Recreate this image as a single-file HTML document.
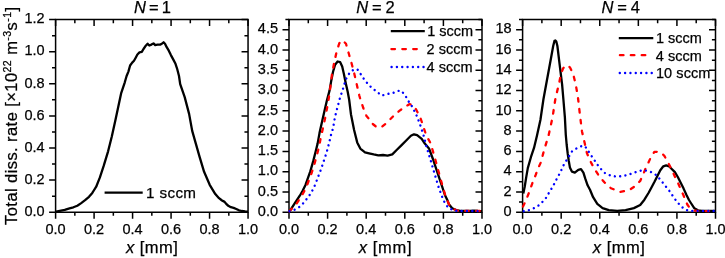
<!DOCTYPE html>
<html><head><meta charset="utf-8"><style>
html,body{margin:0;padding:0;background:#fff;}
svg{display:block;will-change:transform;}
text{font-family:"Liberation Sans", sans-serif;fill:#000;stroke:#000;stroke-width:0.25px;}
</style></head><body>
<svg width="725" height="258" viewBox="0 0 725 258">
<path d="M55.6 19.6H248.05V212.2H55.6Z M289.0 19.6H482.0V212.2H289.0Z M522.6 19.6H715.5V212.2H522.6Z" stroke="#000" stroke-width="1.5" fill="none" stroke-linejoin="miter"/>
<path d="M55.60 212.20L55.60 218.70 M55.60 19.60L55.60 26.10 M74.84 212.20L74.84 215.80 M74.84 19.60L74.84 23.20 M94.09 212.20L94.09 218.70 M94.09 19.60L94.09 26.10 M113.34 212.20L113.34 215.80 M113.34 19.60L113.34 23.20 M132.58 212.20L132.58 218.70 M132.58 19.60L132.58 26.10 M151.83 212.20L151.83 215.80 M151.83 19.60L151.83 23.20 M171.07 212.20L171.07 218.70 M171.07 19.60L171.07 26.10 M190.31 212.20L190.31 215.80 M190.31 19.60L190.31 23.20 M209.56 212.20L209.56 218.70 M209.56 19.60L209.56 26.10 M228.81 212.20L228.81 215.80 M228.81 19.60L228.81 23.20 M248.05 212.20L248.05 218.70 M248.05 19.60L248.05 26.10 M49.10 212.20L55.60 212.20 M248.05 212.20L241.55 212.20 M49.10 180.10L55.60 180.10 M248.05 180.10L241.55 180.10 M49.10 148.00L55.60 148.00 M248.05 148.00L241.55 148.00 M49.10 115.90L55.60 115.90 M248.05 115.90L241.55 115.90 M49.10 83.80L55.60 83.80 M248.05 83.80L241.55 83.80 M49.10 51.70L55.60 51.70 M248.05 51.70L241.55 51.70 M49.10 19.60L55.60 19.60 M248.05 19.60L241.55 19.60 M52.00 196.15L55.60 196.15 M248.05 196.15L244.45 196.15 M52.00 164.05L55.60 164.05 M248.05 164.05L244.45 164.05 M52.00 131.95L55.60 131.95 M248.05 131.95L244.45 131.95 M52.00 99.85L55.60 99.85 M248.05 99.85L244.45 99.85 M52.00 67.75L55.60 67.75 M248.05 67.75L244.45 67.75 M52.00 35.65L55.60 35.65 M248.05 35.65L244.45 35.65 M289.00 212.20L289.00 218.70 M289.00 19.60L289.00 26.10 M308.30 212.20L308.30 215.80 M308.30 19.60L308.30 23.20 M327.60 212.20L327.60 218.70 M327.60 19.60L327.60 26.10 M346.90 212.20L346.90 215.80 M346.90 19.60L346.90 23.20 M366.20 212.20L366.20 218.70 M366.20 19.60L366.20 26.10 M385.50 212.20L385.50 215.80 M385.50 19.60L385.50 23.20 M404.80 212.20L404.80 218.70 M404.80 19.60L404.80 26.10 M424.10 212.20L424.10 215.80 M424.10 19.60L424.10 23.20 M443.40 212.20L443.40 218.70 M443.40 19.60L443.40 26.10 M462.70 212.20L462.70 215.80 M462.70 19.60L462.70 23.20 M482.00 212.20L482.00 218.70 M482.00 19.60L482.00 26.10 M282.50 212.20L289.00 212.20 M482.00 212.20L475.50 212.20 M282.50 191.93L289.00 191.93 M482.00 191.93L475.50 191.93 M282.50 171.65L289.00 171.65 M482.00 171.65L475.50 171.65 M282.50 151.38L289.00 151.38 M482.00 151.38L475.50 151.38 M282.50 131.11L289.00 131.11 M482.00 131.11L475.50 131.11 M282.50 110.83L289.00 110.83 M482.00 110.83L475.50 110.83 M282.50 90.56L289.00 90.56 M482.00 90.56L475.50 90.56 M282.50 70.28L289.00 70.28 M482.00 70.28L475.50 70.28 M282.50 50.01L289.00 50.01 M482.00 50.01L475.50 50.01 M282.50 29.74L289.00 29.74 M482.00 29.74L475.50 29.74 M285.40 202.06L289.00 202.06 M482.00 202.06L478.40 202.06 M285.40 181.79L289.00 181.79 M482.00 181.79L478.40 181.79 M285.40 161.52L289.00 161.52 M482.00 161.52L478.40 161.52 M285.40 141.24L289.00 141.24 M482.00 141.24L478.40 141.24 M285.40 120.97L289.00 120.97 M482.00 120.97L478.40 120.97 M285.40 100.69L289.00 100.69 M482.00 100.69L478.40 100.69 M285.40 80.42L289.00 80.42 M482.00 80.42L478.40 80.42 M285.40 60.15L289.00 60.15 M482.00 60.15L478.40 60.15 M285.40 39.87L289.00 39.87 M482.00 39.87L478.40 39.87 M285.40 19.60L289.00 19.60 M482.00 19.60L478.40 19.60 M522.60 212.20L522.60 218.70 M522.60 19.60L522.60 26.10 M541.89 212.20L541.89 215.80 M541.89 19.60L541.89 23.20 M561.18 212.20L561.18 218.70 M561.18 19.60L561.18 26.10 M580.47 212.20L580.47 215.80 M580.47 19.60L580.47 23.20 M599.76 212.20L599.76 218.70 M599.76 19.60L599.76 26.10 M619.05 212.20L619.05 215.80 M619.05 19.60L619.05 23.20 M638.34 212.20L638.34 218.70 M638.34 19.60L638.34 26.10 M657.63 212.20L657.63 215.80 M657.63 19.60L657.63 23.20 M676.92 212.20L676.92 218.70 M676.92 19.60L676.92 26.10 M696.21 212.20L696.21 215.80 M696.21 19.60L696.21 23.20 M715.50 212.20L715.50 218.70 M715.50 19.60L715.50 26.10 M516.10 212.20L522.60 212.20 M715.50 212.20L709.00 212.20 M516.10 191.93L522.60 191.93 M715.50 191.93L709.00 191.93 M516.10 171.65L522.60 171.65 M715.50 171.65L709.00 171.65 M516.10 151.38L522.60 151.38 M715.50 151.38L709.00 151.38 M516.10 131.11L522.60 131.11 M715.50 131.11L709.00 131.11 M516.10 110.83L522.60 110.83 M715.50 110.83L709.00 110.83 M516.10 90.56L522.60 90.56 M715.50 90.56L709.00 90.56 M516.10 70.28L522.60 70.28 M715.50 70.28L709.00 70.28 M516.10 50.01L522.60 50.01 M715.50 50.01L709.00 50.01 M516.10 29.74L522.60 29.74 M715.50 29.74L709.00 29.74 M519.00 202.06L522.60 202.06 M715.50 202.06L711.90 202.06 M519.00 181.79L522.60 181.79 M715.50 181.79L711.90 181.79 M519.00 161.52L522.60 161.52 M715.50 161.52L711.90 161.52 M519.00 141.24L522.60 141.24 M715.50 141.24L711.90 141.24 M519.00 120.97L522.60 120.97 M715.50 120.97L711.90 120.97 M519.00 100.69L522.60 100.69 M715.50 100.69L711.90 100.69 M519.00 80.42L522.60 80.42 M715.50 80.42L711.90 80.42 M519.00 60.15L522.60 60.15 M715.50 60.15L711.90 60.15 M519.00 39.87L522.60 39.87 M715.50 39.87L711.90 39.87 M519.00 19.60L522.60 19.60 M715.50 19.60L711.90 19.60" stroke="#000" stroke-width="1.5" fill="none"/>
<polyline points="56.0,211.6 59.8,210.9 64.7,209.9 69.5,208.4 73.4,207.3 77.3,205.7 81.2,203.1 85.1,200.2 89.0,196.8 92.3,192.9 93.8,190.5 96.2,186.7 99.9,177.4 103.6,166.2 108.1,151.3 111.8,136.5 115.5,119.7 121.1,93.4 124.8,82.3 126.6,76.0 128.4,71.6 130.1,65.5 132.2,62.6 134.0,60.8 135.7,57.7 137.4,54.5 139.5,52.4 141.8,51.9 143.5,49.0 145.3,46.3 147.6,43.7 149.3,45.5 151.4,44.6 153.5,43.4 155.2,45.1 157.5,44.6 160.1,44.6 161.9,43.7 163.6,42.3 165.0,43.7 166.7,47.2 168.8,50.7 170.9,55.1 173.2,59.4 175.5,63.8 177.2,69.0 179.0,76.0 180.2,84.1 184.7,97.1 189.1,113.9 192.2,130.9 195.9,143.9 199.6,156.9 204.1,171.8 209.7,184.8 215.3,194.1 219.0,198.2 222.0,200.5 224.2,201.6 226.0,203.6 228.3,205.8 230.9,207.2 233.6,207.9 236.3,209.0 239.0,210.3 241.6,211.0 245.2,211.5 248.0,211.6" fill="none" stroke="#000" stroke-width="2.3" stroke-linejoin="round" stroke-linecap="butt"/>
<polyline points="289.4,211.3 290.2,210.3 295.0,202.9 299.8,195.7 302.5,191.0 305.5,185.0 307.2,180.1 310.3,171.4 313.3,160.9 315.9,150.5 317.6,143.6 319.5,133.1 321.8,122.7 324.4,111.3 327.0,100.0 329.6,90.4 331.3,80.4 333.1,71.5 335.1,64.7 337.6,61.5 340.2,62.2 342.2,66.5 343.9,74.1 345.7,82.9 347.7,91.7 349.2,100.0 351.0,114.5 354.1,130.0 357.2,142.4 360.3,148.6 365.0,152.3 369.0,153.3 373.7,154.4 378.3,155.3 383.0,155.0 387.6,155.7 392.3,154.4 396.9,149.8 401.6,145.1 406.2,140.5 410.9,135.8 414.0,134.3 417.1,135.2 421.7,138.9 424.8,143.6 429.0,148.4 433.1,159.5 437.3,172.1 441.5,184.7 444.9,195.0 447.3,199.9 448.9,204.3 452.2,208.2 456.3,210.0 460.0,210.8 470.0,211.0 474.0,210.6 478.0,211.0 482.0,211.1" fill="none" stroke="#000" stroke-width="2.3" stroke-linejoin="round" stroke-linecap="butt"/>
<polyline points="289.4,211.3 290.9,209.6 296.2,204.1 301.0,196.9 305.8,188.5 308.6,181.0 311.6,173.1 313.8,166.2 316.3,157.4 319.4,145.2 320.6,138.4 323.0,127.9 325.3,117.4 327.6,105.2 328.5,100.0 329.8,91.5 332.0,74.1 334.3,62.0 336.7,51.5 339.2,43.5 341.4,40.3 343.6,41.3 346.0,43.8 348.7,53.3 351.5,63.0 354.3,73.7 356.9,85.0 359.3,95.5 360.6,100.0 363.4,108.3 366.5,116.0 369.0,118.8 372.7,124.0 376.8,127.1 381.4,127.1 386.1,123.4 390.7,118.8 395.4,114.1 400.0,110.4 404.7,107.0 409.3,104.2 412.4,104.8 416.1,109.5 420.2,117.2 423.3,126.5 426.4,135.8 430.4,142.8 434.5,156.7 438.7,172.1 442.9,187.4 445.5,196.0 447.6,201.0 449.5,205.2 452.2,208.4 456.3,210.2 460.0,210.9 482.0,211.0" fill="none" stroke="#ff0000" stroke-width="2.3" stroke-dasharray="3.6,7.3" stroke-linecap="round" stroke-linejoin="round"/>
<polyline points="289.5,211.2 292.0,210.6 295.4,209.4 299.8,206.7 303.4,203.1 306.9,198.7 310.5,193.8 313.2,189.0 315.6,183.6 318.5,175.8 321.2,168.8 323.8,160.9 326.4,153.1 329.0,143.5 331.0,134.9 333.1,127.9 334.9,117.4 336.5,111.0 340.0,97.8 342.9,89.1 345.8,79.4 349.7,72.6 353.6,69.7 357.4,69.3 360.3,73.5 364.2,79.4 368.1,84.2 372.0,88.1 375.9,91.0 381.7,95.6 387.5,93.9 392.3,93.3 397.2,91.0 401.0,90.6 404.9,94.9 408.8,101.7 412.1,106.5 417.1,116.6 420.2,125.0 423.3,134.3 426.2,145.6 430.4,159.5 434.5,173.5 438.7,187.4 442.9,199.0 445.0,203.1 448.1,207.6 453.4,210.4 458.0,211.0 482.0,211.1" fill="none" stroke="#0000ff" stroke-width="2.4" stroke-dasharray="0.01,5.32" stroke-linecap="round" stroke-linejoin="round"/>
<polyline points="523.3,193.5 524.7,186.7 526.2,177.4 527.8,168.1 530.9,157.2 534.0,147.9 537.0,135.5 540.4,120.0 543.4,99.5 547.2,78.8 550.7,59.8 553.2,46.0 554.5,40.9 555.4,40.5 556.3,41.5 557.4,46.0 559.4,62.6 562.1,84.3 563.4,99.5 564.9,117.6 565.8,135.0 566.7,145.0 567.7,153.5 568.8,161.0 569.9,167.4 572.0,171.7 574.8,172.6 578.3,169.8 581.0,169.1 583.4,172.6 585.2,178.4 587.6,185.3 590.0,189.8 593.1,197.2 597.3,203.9 602.6,208.1 608.8,210.2 617.2,210.8 625.6,210.2 633.9,208.1 640.2,205.0 644.4,199.7 648.5,193.0 651.2,188.0 654.5,181.8 657.4,176.0 660.3,170.2 663.3,166.3 666.2,165.3 669.1,166.3 672.0,169.2 674.9,172.1 677.8,177.0 680.7,182.8 683.6,188.6 686.5,195.0 689.0,200.0 690.9,203.0 694.4,208.3 697.9,210.3 702.0,210.8 715.5,211.0" fill="none" stroke="#000" stroke-width="2.3" stroke-linejoin="round" stroke-linecap="butt"/>
<polyline points="523.0,206.6 525.5,201.4 529.0,192.7 532.4,183.1 535.9,174.4 537.4,170.0 541.0,162.0 544.1,150.0 548.4,136.2 552.5,117.6 555.2,100.0 556.2,95.1 558.9,84.3 560.8,74.8 563.0,68.5 565.5,65.8 567.6,65.3 570.0,67.5 573.0,73.4 575.7,84.3 577.6,95.1 578.2,99.5 579.9,114.5 582.0,131.5 584.8,143.6 586.9,153.0 590.0,160.5 594.2,168.5 599.4,176.5 604.6,182.5 610.9,188.2 620.3,191.8 628.7,190.3 635.0,186.2 640.2,180.9 642.9,175.0 645.8,168.0 648.7,162.0 651.6,155.7 654.5,151.8 657.4,151.8 661.3,152.8 664.2,155.7 667.1,160.5 670.0,166.3 672.9,172.1 675.9,178.9 678.8,184.7 681.5,191.2 683.6,195.5 685.4,200.5 687.3,204.5 689.5,207.5 691.5,209.4 694.4,210.6 700.0,211.0 715.5,211.1" fill="none" stroke="#ff0000" stroke-width="2.3" stroke-dasharray="3.6,7.3" stroke-linecap="round" stroke-linejoin="round"/>
<polyline points="523.7,211.2 525.4,211.0 530.2,209.8 535.0,207.6 539.8,204.7 543.0,201.3 546.0,197.9 548.5,193.6 551.1,189.3 553.9,184.4 556.6,179.1 559.2,174.4 561.3,170.2 563.5,165.3 566.0,161.0 568.8,156.7 572.0,151.4 575.0,149.3 578.3,147.4 582.4,145.8 585.2,146.5 588.7,151.6 592.2,157.0 595.7,162.0 598.3,165.9 601.6,169.7 605.1,173.2 610.9,175.7 617.2,176.7 624.5,175.7 631.8,173.6 639.2,170.9 644.0,170.2 648.7,171.2 653.6,173.1 657.4,176.0 661.3,180.9 665.2,185.7 669.1,190.5 673.5,197.0 677.0,201.9 680.5,205.7 684.5,209.2 688.6,210.8 715.5,211.0" fill="none" stroke="#0000ff" stroke-width="2.4" stroke-dasharray="0.01,5.32" stroke-linecap="round" stroke-linejoin="round"/>
<line x1="104.6" y1="192.6" x2="142.7" y2="192.6" stroke="#000" stroke-width="2.3"/>
<line x1="390.8" y1="31.1" x2="424.8" y2="31.1" stroke="#000" stroke-width="2.3"/>
<line x1="391.40" y1="49.1" x2="395.00" y2="49.1" stroke="#ff0000" stroke-width="2.3" stroke-linecap="round"/>
<line x1="402.30" y1="49.1" x2="405.90" y2="49.1" stroke="#ff0000" stroke-width="2.3" stroke-linecap="round"/>
<line x1="413.20" y1="49.1" x2="416.80" y2="49.1" stroke="#ff0000" stroke-width="2.3" stroke-linecap="round"/>
<circle cx="391.60" cy="67.0" r="1.2" fill="#0000ff"/>
<circle cx="396.92" cy="67.0" r="1.2" fill="#0000ff"/>
<circle cx="402.24" cy="67.0" r="1.2" fill="#0000ff"/>
<circle cx="407.56" cy="67.0" r="1.2" fill="#0000ff"/>
<circle cx="412.88" cy="67.0" r="1.2" fill="#0000ff"/>
<circle cx="418.20" cy="67.0" r="1.2" fill="#0000ff"/>
<circle cx="423.52" cy="67.0" r="1.2" fill="#0000ff"/>
<line x1="618.8" y1="38.1" x2="653.3" y2="38.1" stroke="#000" stroke-width="2.3"/>
<line x1="619.90" y1="55.2" x2="623.50" y2="55.2" stroke="#ff0000" stroke-width="2.3" stroke-linecap="round"/>
<line x1="630.80" y1="55.2" x2="634.40" y2="55.2" stroke="#ff0000" stroke-width="2.3" stroke-linecap="round"/>
<line x1="641.70" y1="55.2" x2="645.30" y2="55.2" stroke="#ff0000" stroke-width="2.3" stroke-linecap="round"/>
<circle cx="619.80" cy="73.0" r="1.2" fill="#0000ff"/>
<circle cx="625.12" cy="73.0" r="1.2" fill="#0000ff"/>
<circle cx="630.44" cy="73.0" r="1.2" fill="#0000ff"/>
<circle cx="635.76" cy="73.0" r="1.2" fill="#0000ff"/>
<circle cx="641.08" cy="73.0" r="1.2" fill="#0000ff"/>
<circle cx="646.40" cy="73.0" r="1.2" fill="#0000ff"/>
<circle cx="651.72" cy="73.0" r="1.2" fill="#0000ff"/>
<text x="55.60" y="234.4" text-anchor="middle" font-size="14.5">0.0</text>
<text x="94.09" y="234.4" text-anchor="middle" font-size="14.5">0.2</text>
<text x="132.58" y="234.4" text-anchor="middle" font-size="14.5">0.4</text>
<text x="171.07" y="234.4" text-anchor="middle" font-size="14.5">0.6</text>
<text x="209.56" y="234.4" text-anchor="middle" font-size="14.5">0.8</text>
<text x="248.05" y="234.4" text-anchor="middle" font-size="14.5">1.0</text>
<text x="44.60" y="215.90" text-anchor="end" font-size="14.5">0.0</text>
<text x="44.60" y="183.80" text-anchor="end" font-size="14.5">0.2</text>
<text x="44.60" y="151.70" text-anchor="end" font-size="14.5">0.4</text>
<text x="44.60" y="119.60" text-anchor="end" font-size="14.5">0.6</text>
<text x="44.60" y="87.50" text-anchor="end" font-size="14.5">0.8</text>
<text x="44.60" y="55.40" text-anchor="end" font-size="14.5">1.0</text>
<text x="44.60" y="23.30" text-anchor="end" font-size="14.5">1.2</text>
<text x="289.00" y="234.4" text-anchor="middle" font-size="14.5">0.0</text>
<text x="327.60" y="234.4" text-anchor="middle" font-size="14.5">0.2</text>
<text x="366.20" y="234.4" text-anchor="middle" font-size="14.5">0.4</text>
<text x="404.80" y="234.4" text-anchor="middle" font-size="14.5">0.6</text>
<text x="443.40" y="234.4" text-anchor="middle" font-size="14.5">0.8</text>
<text x="482.00" y="234.4" text-anchor="middle" font-size="14.5">1.0</text>
<text x="278.00" y="215.90" text-anchor="end" font-size="14.5">0.0</text>
<text x="278.00" y="195.63" text-anchor="end" font-size="14.5">0.5</text>
<text x="278.00" y="175.35" text-anchor="end" font-size="14.5">1.0</text>
<text x="278.00" y="155.08" text-anchor="end" font-size="14.5">1.5</text>
<text x="278.00" y="134.81" text-anchor="end" font-size="14.5">2.0</text>
<text x="278.00" y="114.53" text-anchor="end" font-size="14.5">2.5</text>
<text x="278.00" y="94.26" text-anchor="end" font-size="14.5">3.0</text>
<text x="278.00" y="73.98" text-anchor="end" font-size="14.5">3.5</text>
<text x="278.00" y="53.71" text-anchor="end" font-size="14.5">4.0</text>
<text x="278.00" y="33.44" text-anchor="end" font-size="14.5">4.5</text>
<text x="522.60" y="234.4" text-anchor="middle" font-size="14.5">0.0</text>
<text x="561.18" y="234.4" text-anchor="middle" font-size="14.5">0.2</text>
<text x="599.76" y="234.4" text-anchor="middle" font-size="14.5">0.4</text>
<text x="638.34" y="234.4" text-anchor="middle" font-size="14.5">0.6</text>
<text x="676.92" y="234.4" text-anchor="middle" font-size="14.5">0.8</text>
<text x="715.50" y="234.4" text-anchor="middle" font-size="14.5">1.0</text>
<text x="511.60" y="215.90" text-anchor="end" font-size="14.5">0</text>
<text x="511.60" y="195.63" text-anchor="end" font-size="14.5">2</text>
<text x="511.60" y="175.35" text-anchor="end" font-size="14.5">4</text>
<text x="511.60" y="155.08" text-anchor="end" font-size="14.5">6</text>
<text x="511.60" y="134.81" text-anchor="end" font-size="14.5">8</text>
<text x="511.60" y="114.53" text-anchor="end" font-size="14.5">10</text>
<text x="511.60" y="94.26" text-anchor="end" font-size="14.5">12</text>
<text x="511.60" y="73.98" text-anchor="end" font-size="14.5">14</text>
<text x="511.60" y="53.71" text-anchor="end" font-size="14.5">16</text>
<text x="511.60" y="33.44" text-anchor="end" font-size="14.5">18</text>
<text x="152.5" y="12.6" text-anchor="middle" font-size="16.5" textLength="37.0" lengthAdjust="spacing"><tspan font-style="italic">N</tspan> = 1</text>
<text x="375.5" y="12.6" text-anchor="middle" font-size="16.5" textLength="38.4" lengthAdjust="spacing"><tspan font-style="italic">N</tspan> = 2</text>
<text x="620.7" y="12.6" text-anchor="middle" font-size="16.5" textLength="38.6" lengthAdjust="spacing"><tspan font-style="italic">N</tspan> = 4</text>
<text x="151.9" y="253.2" text-anchor="middle" font-size="16.5" textLength="51.8" lengthAdjust="spacing"><tspan font-style="italic">x</tspan> [mm]</text>
<text x="385.1" y="253.2" text-anchor="middle" font-size="16.5" textLength="52.8" lengthAdjust="spacing"><tspan font-style="italic">x</tspan> [mm]</text>
<text x="618.8" y="253.2" text-anchor="middle" font-size="16.5" textLength="52.0" lengthAdjust="spacing"><tspan font-style="italic">x</tspan> [mm]</text>
<text x="146.0" y="198.0" font-size="15.2" textLength="50.0" lengthAdjust="spacing">1 sccm</text>
<text x="427.2" y="36.0" font-size="14.5" textLength="46.0" lengthAdjust="spacing">1 sccm</text>
<text x="426.6" y="53.7" font-size="14.5" textLength="46.0" lengthAdjust="spacing">2 sccm</text>
<text x="426.6" y="72.0" font-size="14.5" textLength="46.0" lengthAdjust="spacing">4 sccm</text>
<text x="655.9" y="43.0" font-size="14.5" textLength="46.0" lengthAdjust="spacing">1 sccm</text>
<text x="655.8" y="61.0" font-size="14.5" textLength="46.0" lengthAdjust="spacing">4 sccm</text>
<text x="655.9" y="78.3" font-size="14.5" textLength="54.5" lengthAdjust="spacing">10 sccm</text>
<text transform="translate(17.4,115.9) rotate(-90)" text-anchor="middle" font-size="16.5" textLength="218" lengthAdjust="spacing">Total diss. rate [×10<tspan font-size="10.6" dy="-6.8">22</tspan><tspan dy="6.8"> m</tspan><tspan font-size="10.6" dy="-6.8">-3</tspan><tspan dy="6.8">s</tspan><tspan font-size="10.6" dy="-6.8">-1</tspan><tspan dy="6.8">]</tspan></text>
</svg>
</body></html>
